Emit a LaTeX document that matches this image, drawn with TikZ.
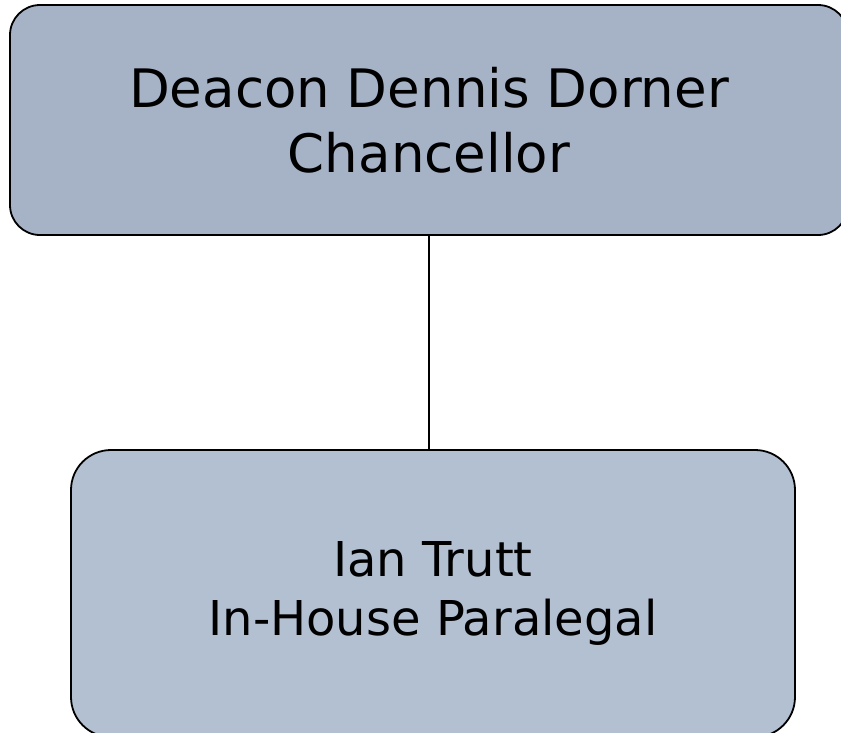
\documentclass[tikz,border=0pt]{standalone}
\usepackage{fontspec}
\setmainfont{DejaVu Sans}
\usepackage{tikz}

\definecolor{headfill}{RGB}{166,179,199}
\definecolor{stafffill}{RGB}{179,192,209}

\tikzset{
  orgbox/.style={draw=black, line width=1.8pt, rounded corners=30pt, align=center, inner sep=0pt}
}

\begin{document}
\begin{tikzpicture}[x=1pt, y=-1pt]

    \clip (0,0) rectangle (841,732);
    \useasboundingbox (0,0) rectangle (841,732);

    \node[orgbox, fill=headfill, minimum width=838pt, minimum height=230pt,
      font=\fontsize{53}{64.5}\selectfont] (chancellor) at (429,120)
      {Deacon Dennis Dorner\\Chancellor};

    \node[orgbox, fill=stafffill, rounded corners=40pt, minimum width=724pt, minimum height=287pt,
      font=\fontsize{48}{58.7}\selectfont] (paralegal) at (433,593.5)
      {Ian Trutt\\In-House Paralegal};

    \draw[line width=1.3pt] (chancellor.south) -- (chancellor.south |- paralegal.north);

  \end{tikzpicture}
\end{document}
